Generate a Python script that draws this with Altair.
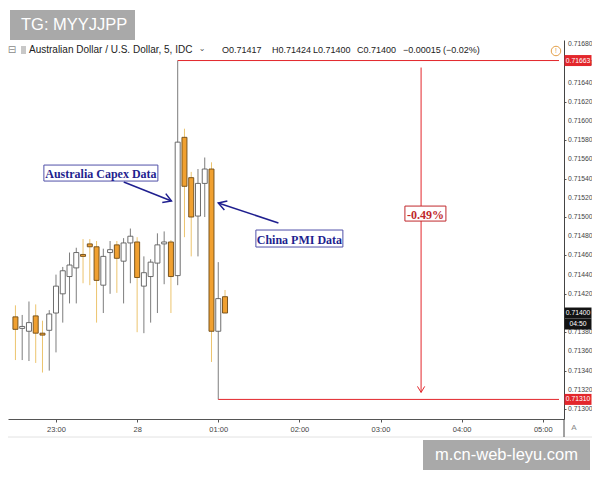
import json
import math
import altair as alt
import pandas as pd

# ---------------- data (AUD/USD 5-minute candles) ----------------
times = ["22:30", "22:35", "22:40", "22:45", "22:50", "22:55", "23:00", "23:05",
         "23:10", "23:15", "23:20", "23:25", "23:30", "23:35", "23:40", "23:45",
         "23:50", "23:55", "00:00", "00:05", "00:10", "00:15", "00:20", "00:25",
         "00:30", "00:35", "00:40", "00:45", "00:50", "00:55", "01:00", "01:05"]
opens = [0.71396, 0.71384, 0.71381, 0.71397, 0.71379, 0.71382, 0.71400, 0.71420,
         0.71438, 0.71447, 0.71461, 0.71472, 0.71469, 0.71429, 0.71463, 0.71471,
         0.71454, 0.71473, 0.71474, 0.71428, 0.71438, 0.71452, 0.71472, 0.71474,
         0.71439, 0.71583, 0.71541, 0.71501, 0.71535, 0.71550, 0.71381, 0.71417]
highs = [0.71408, 0.71398, 0.71412, 0.71409, 0.71392, 0.71403, 0.71440, 0.71448,
         0.71463, 0.71468, 0.71477, 0.71477, 0.71475, 0.71467, 0.71475, 0.71475,
         0.71478, 0.71488, 0.71479, 0.71459, 0.71456, 0.71483, 0.71485, 0.71476,
         0.71663, 0.71592, 0.71547, 0.71550, 0.71562, 0.71557, 0.71453, 0.71424]
lows = [0.71351, 0.71351, 0.71350, 0.71348, 0.71338, 0.71340, 0.71359, 0.71390,
        0.71410, 0.71410, 0.71431, 0.71429, 0.71390, 0.71400, 0.71420, 0.71421,
        0.71410, 0.71431, 0.71380, 0.71379, 0.71390, 0.71400, 0.71430, 0.71400,
        0.71429, 0.71479, 0.71459, 0.71459, 0.71500, 0.71349, 0.71310, 0.71400]
closes = [0.71383, 0.71386, 0.71390, 0.71379, 0.71377, 0.71399, 0.71428, 0.71444,
          0.71450, 0.71463, 0.71459, 0.71469, 0.71434, 0.71459, 0.71466, 0.71457,
          0.71473, 0.71480, 0.71437, 0.71442, 0.71453, 0.71471, 0.71474, 0.71438,
          0.71578, 0.71532, 0.71500, 0.71535, 0.71550, 0.71381, 0.71415, 0.71400]

x_tick_minutes = [60, 120, 180, 240, 300, 360, 420]
x_tick_labels = ["23:00", "28", "01:00", "02:00", "03:00", "04:00", "05:00"]
y_tick_values = [round(0.71300 + 0.0002 * i, 5) for i in range(20)]

range_high = 0.71663
range_low = 0.71310
range_pct = "-0.49%"
header_name = "Australian Dollar / U.S. Dollar, 5, IDC"
header_vals = ["O0.71417", "H0.71424", "L0.71400", "C0.71400", "\u22120.00015", "(\u22120.02%)"]
last_price = 0.71400
countdown = "04:50"

# ---------------- helpers ----------------
def minutes(t):
    h, m = (int(v) for v in t.split(":"))
    if h < 12:
        h += 24
    return (h - 22) * 60 + m

X0, X1 = 28.2, 432.0
Y0, Y1 = 0.712896, 0.716844
W, H = 556, 379
PPM = W / (X1 - X0)
PPP = H / (Y1 - Y0)

RED = "#e3262b"
NAVY = "#1f1f8f"
ORANGE = "#f0a030"
ORANGE_EDGE = "#6d4916"
WICK_DOWN = "#ecc46e"
WICK_UP = "#7d7d7d"
UP_EDGE = "#5c5c5c"

xs = alt.Scale(domain=[X0, X1], nice=False, zero=False)
ys = alt.Scale(domain=[Y0, Y1], nice=False, zero=False)

x_axis = alt.Axis(values=x_tick_minutes,
                  labelExpr=json.dumps(x_tick_labels) + "[round(datum.value/60)-1]",
                  title=None, grid=False, domainColor="#555555", tickColor="#555555",
                  tickSize=3, labelFontSize=7.5, labelColor="#444444",
                  labelFont="Liberation Sans", labelPadding=3, labelFlush=False)
y_axis = alt.Axis(orient="right", values=y_tick_values, labels=False, title=None,
                  grid=False, domainColor="#444444", tickColor="#555555", tickSize=2)


def rect_path(w, h):
    hy = h / w
    return f"M-1,{-hy:.4f} L1,{-hy:.4f} L1,{hy:.4f} L-1,{hy:.4f} Z"


CHEVRON = "M-1,-0.6 L0,0 L-1,0.6"

candles = pd.DataFrame({"t": times, "open": opens, "high": highs, "low": lows, "close": closes})
candles["m"] = [minutes(t) for t in times]
candles["lo"] = candles[["open", "close"]].min(axis=1)
candles["hi"] = candles[["open", "close"]].max(axis=1)
up = candles[candles["close"] >= candles["open"]]
down = candles[candles["close"] < candles["open"]]

layers = []

# wicks
for df, col in ((up, WICK_UP), (down, WICK_DOWN)):
    layers.append(
        alt.Chart(df).mark_rule(strokeWidth=1, color=col).encode(
            x=alt.X("m:Q", scale=xs, axis=x_axis),
            y=alt.Y("low:Q", scale=ys, axis=y_axis),
            y2="high:Q",
        )
    )
# bodies
for df, fill, edge in ((up, "#ffffff", UP_EDGE), (down, ORANGE, ORANGE_EDGE)):
    layers.append(
        alt.Chart(df).mark_bar(size=5, fill=fill, stroke=edge, strokeWidth=0.9).encode(
            x=alt.X("m:Q", scale=xs),
            y=alt.Y("lo:Q", scale=ys),
            y2="hi:Q",
        )
    )

# right-axis labels (the one under the last-price tag is covered, as in the platform)
label_vals = [v for v in y_tick_values if abs(v - last_price) > 1e-9]
y_labels = pd.DataFrame({"y": label_vals, "t": [f"{v:.5f}" for v in label_vals]})
layers.append(alt.Chart(y_labels).mark_text(font="Liberation Sans", fontSize=6.8, color="#444444",
                                            align="left", baseline="middle")
              .encode(x=alt.value(W + 4), y=alt.Y("y:Q", scale=ys), text="t:N"))

# price range tool
range_lines = pd.DataFrame({"x": [minutes("00:30"), minutes("01:00")], "x2": [X1, X1],
                            "y": [range_high, range_low]})
layers.append(alt.Chart(range_lines).mark_rule(color=RED, strokeWidth=1).encode(
    x=alt.X("x:Q", scale=xs), x2="x2:Q", y=alt.Y("y:Q", scale=ys)))

arrow_m = minutes("03:30")
arrow_top = range_high - 7 / PPP
arrow_bot = range_low + 7 / PPP
layers.append(alt.Chart(pd.DataFrame({"x": [arrow_m], "y": [arrow_top], "y2": [arrow_bot]}))
              .mark_rule(color=RED, strokeWidth=1)
              .encode(x=alt.X("x:Q", scale=xs), y=alt.Y("y:Q", scale=ys), y2="y2:Q"))
layers.append(alt.Chart(pd.DataFrame({"x": [arrow_m], "y": [arrow_bot]}))
              .mark_point(shape=CHEVRON, size=144, angle=90, filled=False, color=RED,
                          strokeWidth=1, opacity=1)
              .encode(x=alt.X("x:Q", scale=xs), y=alt.Y("y:Q", scale=ys)))

# annotation arrows (tail -> head)
arrows = [(110.1, 0.715365, 145.4, 0.715167), (224.5, 0.714938, 180.0, 0.715146)]
for (ax1, ay1, ax2, ay2) in arrows:
    layers.append(alt.Chart(pd.DataFrame({"x": [ax1], "y": [ay1], "x2": [ax2], "y2": [ay2]}))
                  .mark_rule(color=NAVY, strokeWidth=1.5)
                  .encode(x=alt.X("x:Q", scale=xs), y=alt.Y("y:Q", scale=ys), x2="x2:Q", y2="y2:Q"))
    ang = math.degrees(math.atan2(-(ay2 - ay1) * PPP, (ax2 - ax1) * PPM)) % 360
    layers.append(alt.Chart(pd.DataFrame({"x": [ax2], "y": [ay2]}))
                  .mark_point(shape=CHEVRON, size=256, angle=ang, filled=False, color=NAVY,
                              strokeWidth=1.5, opacity=1)
                  .encode(x=alt.X("x:Q", scale=xs), y=alt.Y("y:Q", scale=ys)))

# annotation boxes
boxes = [("Australia Capex Data", 93.2, 0.715458, 114, 16, NAVY, "#5050a8"),
         ("China PMI Data", 240.0, 0.714776, 87, 17, NAVY, "#5050a8"),
         (range_pct, 333.2, 0.715036, 41, 15, "#c0282c", "#c0282c")]
for (txt, bx, by, bw, bh, tcol, ecol) in boxes:
    d = pd.DataFrame({"x": [bx], "y": [by], "t": [txt]})
    layers.append(alt.Chart(d).mark_point(shape=rect_path(bw, bh), size=bw * bw, filled=True,
                                          fill="white", stroke=ecol, strokeWidth=1, opacity=1)
                  .encode(x=alt.X("x:Q", scale=xs), y=alt.Y("y:Q", scale=ys)))
    layers.append(alt.Chart(d).mark_text(font="Liberation Serif", fontWeight="bold", fontSize=12,
                                         color=tcol, align="center", baseline="middle", dy=1)
                  .encode(x=alt.X("x:Q", scale=xs), y=alt.Y("y:Q", scale=ys), text="t:N"))

# price tags on the axis
TAG_X = W + 14
tags = [(range_high, "0.71663", RED, 0), (range_low, "0.71310", RED, 0),
        (last_price, "0.71400", "#131313", 0), (last_price, countdown, "#131313", 11)]
for (p, txt, col, off) in tags:
    d = pd.DataFrame({"y": [p], "t": [txt]})
    layers.append(alt.Chart(d).mark_point(shape=rect_path(27, 11), size=729, filled=True,
                                          color=col, opacity=1, yOffset=off)
                  .encode(x=alt.value(TAG_X), y=alt.Y("y:Q", scale=ys)))
    layers.append(alt.Chart(d).mark_text(font="Liberation Sans", fontSize=6.8, color="white",
                                         align="center", baseline="middle", dy=off)
                  .encode(x=alt.value(TAG_X), y=alt.Y("y:Q", scale=ys), text="t:N"))


def text_at(px, py, txt, **kw):
    return alt.Chart(pd.DataFrame({"t": [txt]})).mark_text(**kw).encode(
        x=alt.value(px), y=alt.value(py), text="t:N")


def box_at(px, py, w, h, **kw):
    return alt.Chart(pd.DataFrame({"t": [0]})).mark_point(
        shape=rect_path(w, h), size=w * w, filled=True, opacity=1, **kw).encode(
        x=alt.value(px), y=alt.value(py))


# chrome: bottom separator and "A"
layers.append(alt.Chart(pd.DataFrame({"t": [0]})).mark_rule(color="#e2e2e2", strokeWidth=1).encode(
    x=alt.value(-8), x2=alt.value(W + 28), y=alt.value(H + 18)))
layers.append(alt.Chart(pd.DataFrame({"t": [0]})).mark_rule(color="#444444", strokeWidth=1).encode(
    x=alt.value(W), y=alt.value(H), y2=alt.value(H + 18)))
layers.append(text_at(W + 10, H + 9, "A", font="Liberation Sans", fontSize=8, color="#888888",
                      align="center", baseline="middle"))

# header line
layers.append(text_at(4, 10, "\u229f", font="DejaVu Sans", fontSize=10, color="#8a8a8a",
                      align="center", baseline="middle"))
layers.append(box_at(15.5, 10, 5, 8, color="#c8c8c8"))
layers.append(text_at(21, 10, header_name, font="Liberation Sans", fontSize=10, color="#222222",
                      align="left", baseline="middle"))
layers.append(text_at(194, 9, "\u2304", font="DejaVu Sans", fontSize=8, color="#555555",
                      align="center", baseline="middle"))
for px, txt in zip([214, 264, 305, 349, 395, 435], header_vals):
    layers.append(text_at(px, 10, txt, font="Liberation Sans", fontSize=9, color="#222222",
                          align="left", baseline="middle"))
layers.append(alt.Chart(pd.DataFrame({"t": [0]})).mark_point(
    shape="circle", size=90, filled=False, color="#e3a04a", strokeWidth=1, opacity=1).encode(
    x=alt.value(W - 8), y=alt.value(11)))
layers.append(text_at(W - 8, 11, "!", font="Liberation Sans", fontSize=7, color="#e3a04a",
                      align="center", baseline="middle"))

# watermarks
layers.append(box_at(64.5, -15, 125, 30, color="#a9a9a9"))
layers.append(text_at(13, -15, "TG: MYYJJPP", font="Liberation Sans", fontSize=16.5, color="white",
                      align="left", baseline="middle"))
layers.append(box_at(498.5, 415, 167, 30, color="#a9a9a9"))
layers.append(text_at(498.5, 415, "m.cn-web-leyu.com", font="Liberation Sans", fontSize=16.5,
                      color="white", align="center", baseline="middle"))

chart = alt.layer(*layers).properties(
    width=W, height=H,
    padding={"left": 0, "top": 32, "right": 28, "bottom": 53},
    autosize=alt.AutoSizeParams(type="none"),
    background="white",
).configure_view(stroke=None)

chart.save("out.html", embed_options={"renderer": "svg", "actions": False})
